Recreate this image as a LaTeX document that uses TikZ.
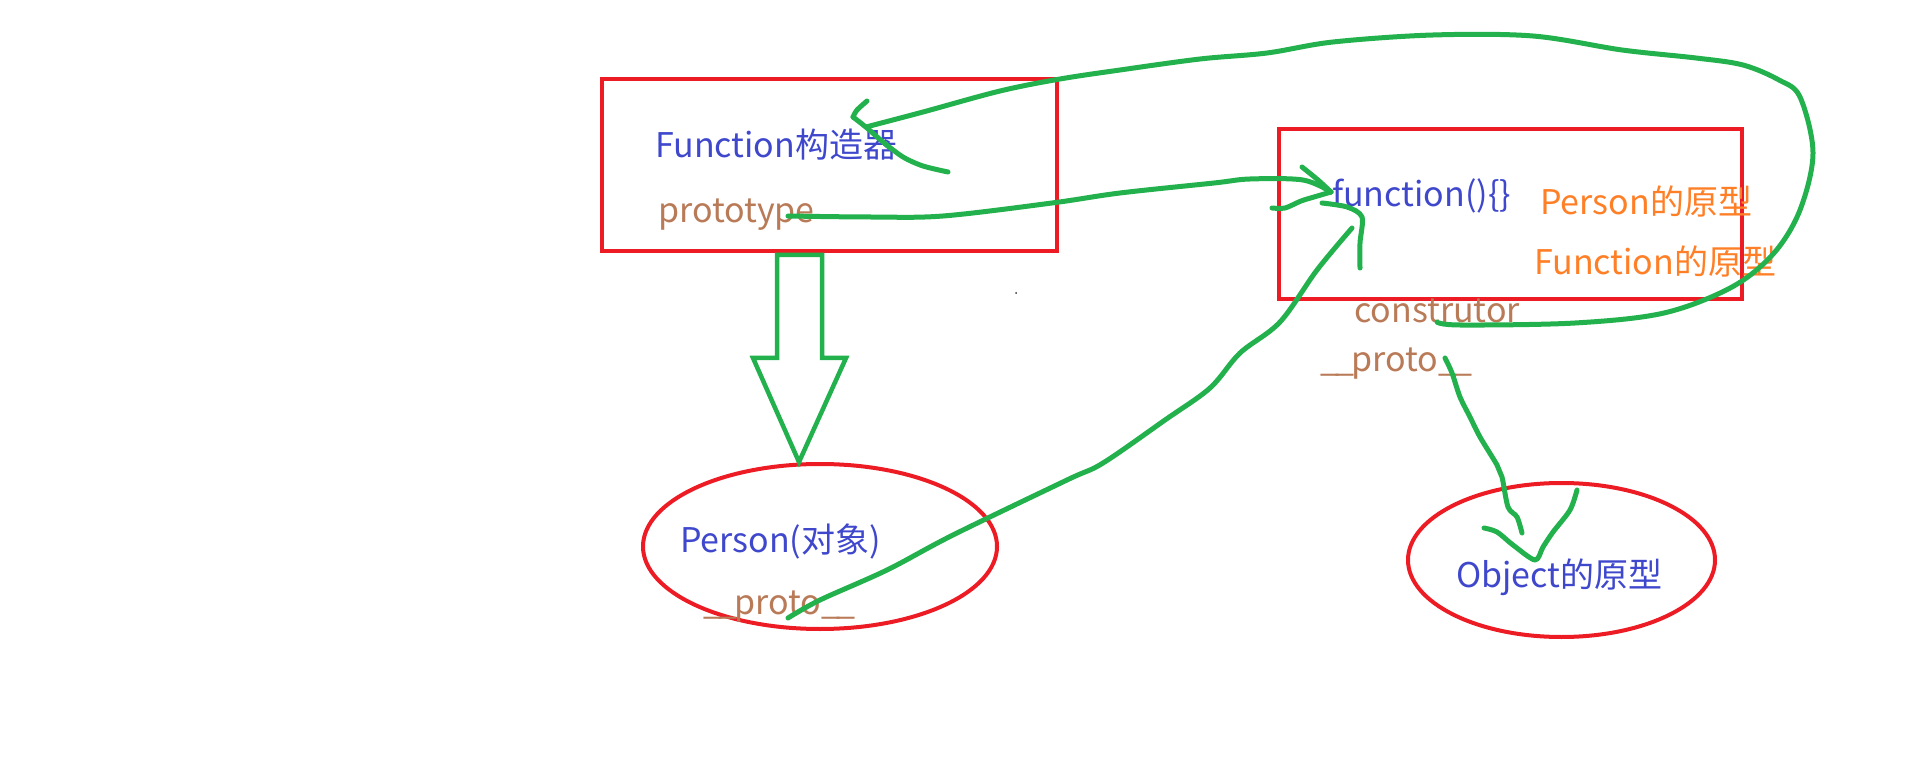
\documentclass[tikz,border=0pt]{standalone}
\usepackage{fontspec}
\setmainfont{Noto Sans CJK SC}
\usetikzlibrary{shapes.geometric}
\definecolor{pRed}{HTML}{ED1C24}
\definecolor{pGreen}{HTML}{22B14C}
\definecolor{pBlue}{HTML}{3F48CC}
\definecolor{pOrange}{HTML}{FF7F27}
\definecolor{pBrown}{HTML}{B97A57}
\newcommand{\usc}{\_\kern-3.5pt}
\tikzset{
  redbox/.style={draw=pRed, line width=4pt, rectangle, inner sep=0pt},
  redell/.style={draw=pRed, line width=4pt, ellipse, inner sep=0pt},
  lbl/.style={anchor=base west, inner sep=0pt, font=\fontsize{34}{40}\selectfont},
  bluetxt/.style={lbl, text=pBlue},
  orangetxt/.style={lbl, text=pOrange},
  browntxt/.style={lbl, text=pBrown},
  stroke/.style={draw=pGreen, line width=5pt, line cap=round, line join=round},
}
\begin{document}
\begin{tikzpicture}[x=1pt, y=-1pt]
\useasboundingbox (0,0) rectangle (1914,775);
% boxes and ellipses
\node[redbox, minimum width=455pt, minimum height=172pt] (fbox) at (829.5,165) {};
\node[redbox, minimum width=463pt, minimum height=170pt] (pbox) at (1510.5,214) {};
\node[redell, minimum width=354pt, minimum height=165pt] (pell) at (820,546.5) {};
\node[redell, minimum width=307pt, minimum height=154pt] (oell) at (1561.5,560) {};
% texts
\node[bluetxt] (fctor) at (655,158) {Function构造器};
\node[browntxt] (fproto) at (658,223) {prototype};
\node[bluetxt] (fn) at (1332,207) {function()\{\}};
\node[orangetxt] (pp) at (1540,215) {Person的原型};
\node[orangetxt] (fp) at (1534,275) {Function的原型};
\node[browntxt] (ctor) at (1354,323) {construtor};
\node[browntxt] (fnproto) at (1320,372) {\usc\usc proto\usc\_};
\node[bluetxt] (person) at (680,552) {Person(对象)};
\node[browntxt] (perproto) at (703,614) {\usc\usc proto\usc\_};
\node[bluetxt] (obj) at (1456,587) {Object的原型};
% tiny dot
\fill[black!80] (1016,293) circle (1pt);
% hollow arrow
\draw[stroke, line cap=butt, line join=miter, line width=4.5pt]
  (777,255) -- (777,358) -- (753,358) -- (799,462) -- (846,358) -- (822,358) -- (822,255) -- cycle;
% prototype -> function(){}
\draw[stroke] plot[smooth, tension=0.55] coordinates {(788,216) (870,217) (943,216) (1052,203) (1120,193) (1214,183) (1250,179) (1303,180) (1331,192)};
\draw[stroke] plot[smooth, tension=0.5] coordinates {(1302,167) (1318,180) (1331,192)};
\draw[stroke] plot[smooth, tension=0.5] coordinates {(1331,192) (1314,197) (1301,201) (1285,208) (1272,208)};
% big loop construtor -> Function constructor
\draw[stroke] plot[smooth, tension=0.55] coordinates {(1437,322) (1460,325) (1575,323) (1664,313) (1732,287) (1774,253) (1800,210) (1813,153) (1800,97) (1779,80) (1743,65) (1696,58) (1622,50) (1533,36) (1433,35) (1333,42) (1267,53) (1200,59) (1120,70) (1060,79) (1000,91) (923,112) (866,127)};
\draw[stroke] plot[smooth, tension=0.5] coordinates {(867,101) (857,110) (853,117)};
\draw[stroke] plot[smooth, tension=0.5] coordinates {(853,117) (867,128) (883,142) (903,157) (923,166) (948,172)};
% Person __proto__ -> function(){}
\draw[stroke] plot[smooth, tension=0.55] coordinates {(788,618) (820,600) (887,570) (953,535) (1067,480) (1103,463) (1165,420) (1210,388) (1240,353) (1280,322) (1317,270) (1352,228)};
\draw[stroke] plot[smooth, tension=0.5] coordinates {(1360,268) (1360,243) (1362,217) (1347,207) (1322,203)};
% function __proto__ -> Object prototype
\draw[stroke] plot[smooth, tension=0.5] coordinates {(1445,358) (1452,373) (1460,397) (1470,417) (1480,437) (1497,465) (1502,477) (1508,507) (1517,517) (1522,533)};
\draw[stroke] plot[smooth, tension=0.5] coordinates {(1484,528) (1497,532) (1513,545) (1535,560) (1543,547) (1553,532) (1570,510) (1577,490)};
\end{tikzpicture}
\end{document}
